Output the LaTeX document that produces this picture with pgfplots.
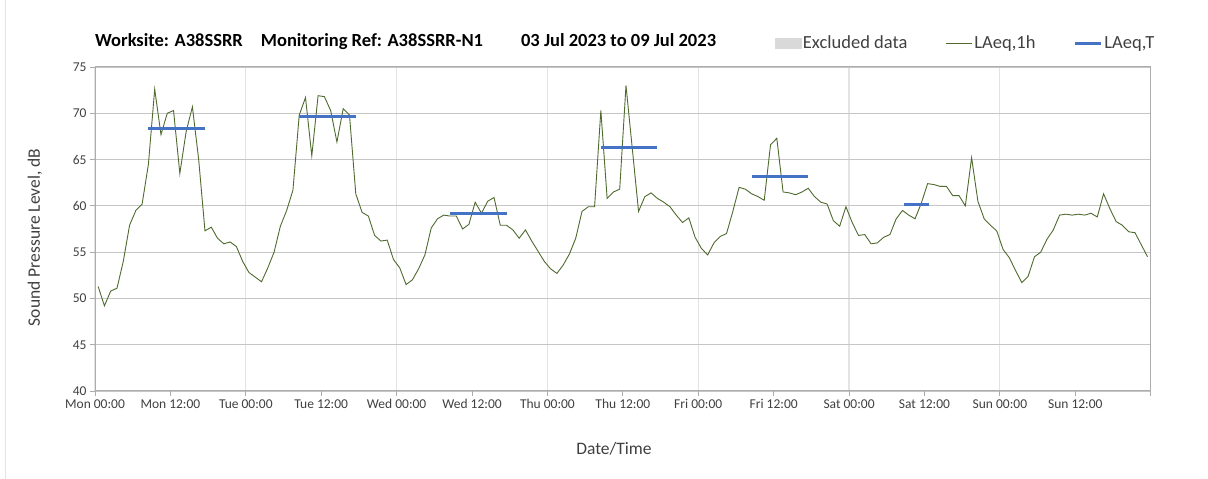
\documentclass[border=0pt]{standalone}
\usepackage{pgfplots}
\pgfplotsset{compat=1.18}
\usepackage{pgfplotstable}
\usepackage{fontspec}
\setmainfont{Carlito}
\definecolor{laeqgreen}{RGB}{79,106,46}
\definecolor{laeqblue}{RGB}{68,114,196}
\definecolor{txtgray}{RGB}{64,64,64}
\definecolor{exclgray}{RGB}{217,217,217}

% hourly LAeq,1h, hour index from Mon 00:00
\pgfplotstableread{
h L
0 51.3
1 49.2
2 50.8
3 51.1
4 54.0
5 57.9
6 59.5
7 60.2
8 64.5
9 72.6
10 67.7
11 70.0
12 70.3
13 63.5
14 68.0
15 70.7
16 65.0
17 57.3
18 57.7
19 56.5
20 55.9
21 56.1
22 55.6
23 54.0
24 52.8
25 52.3
26 51.8
27 53.3
28 55.0
29 57.8
30 59.5
31 61.7
32 69.8
33 71.7
34 65.4
35 71.9
36 71.8
37 70.3
38 66.9
39 70.5
40 69.8
41 61.3
42 59.3
43 58.9
44 56.8
45 56.2
46 56.3
47 54.2
48 53.3
49 51.5
50 52.0
51 53.2
52 54.7
53 57.6
54 58.6
55 59.0
56 58.9
57 58.9
58 57.5
59 58.0
60 60.4
61 59.2
62 60.5
63 60.9
64 57.9
65 57.9
66 57.4
67 56.5
68 57.4
69 56.2
70 55.1
71 54.0
72 53.2
73 52.7
74 53.6
75 54.8
76 56.5
77 59.4
78 59.9
79 59.9
80 70.3
81 60.8
82 61.5
83 61.8
84 73.0
85 66.2
86 59.4
87 61.0
88 61.4
89 60.8
90 60.4
91 59.9
92 59.0
93 58.2
94 58.7
95 56.6
96 55.4
97 54.7
98 56.0
99 56.7
100 57.0
101 59.4
102 62.0
103 61.8
104 61.3
105 61.0
106 60.6
107 66.6
108 67.3
109 61.5
110 61.4
111 61.2
112 61.5
113 61.9
114 61.0
115 60.4
116 60.2
117 58.4
118 57.8
119 59.9
120 58.2
121 56.8
122 56.9
123 55.9
124 56.0
125 56.6
126 56.9
127 58.6
128 59.5
129 59.0
130 58.6
131 60.3
132 62.4
133 62.3
134 62.1
135 62.1
136 61.1
137 61.1
138 60.0
139 65.2
140 60.5
141 58.6
142 57.9
143 57.3
144 55.3
145 54.4
146 53.0
147 51.7
148 52.4
149 54.5
150 55.0
151 56.4
152 57.4
153 59.0
154 59.1
155 59.0
156 59.1
157 59.0
158 59.2
159 58.8
160 61.3
161 59.7
162 58.3
163 57.9
164 57.2
165 57.1
166 55.8
167 54.5
}\hourly

\begin{document}
\begin{tikzpicture}
\useasboundingbox (0pt,0pt) rectangle (1208pt,479pt);
\draw[gray!20] (5pt,0pt) -- (5pt,479pt);
\node[anchor=base west, inner sep=0pt, font=\fontsize{18.5}{21}\selectfont\bfseries]
  at (95pt,432pt) {Worksite: A38SSRR\hspace{18pt}Monitoring Ref: A38SSRR-N1\hspace{38pt}03 Jul 2023 to 09 Jul 2023};
\begin{axis}[
  at={(95pt,88pt)}, anchor=south west,
  scale only axis, width=1055.7pt, height=324pt,
  xmin=0, xmax=168, ymin=40, ymax=75,
  xtick={0,24,...,168},
  xticklabels={Mon 00:00,Tue 00:00,Wed 00:00,Thu 00:00,Fri 00:00,Sat 00:00,Sun 00:00,{}},
  extra x ticks={12,36,...,156},
  extra x tick labels={Mon 12:00,Tue 12:00,Wed 12:00,Thu 12:00,Fri 12:00,Sat 12:00,Sun 12:00},
  extra x tick style={grid=none},
  ytick={40,45,...,75},
  grid=major,
  x grid style={draw=gray!22, line width=1.2pt},
  y grid style={draw=gray!45, line width=0.9pt},
  axis line style={draw=gray!65, line width=1pt},
  tick style={draw=gray!65, line width=0.8pt},
  tick align=outside, major tick length=5pt,
  xtick pos=bottom, ytick pos=left,
  ticklabel style={font=\fontsize{13.5}{15}\selectfont, text=txtgray},
  /pgf/number format/assume math mode=true,
  xlabel={Date/Time}, ylabel={Sound Pressure Level, dB},
  label style={font=\fontsize{17.5}{19}\selectfont, text=txtgray},
  xlabel style={at={(axis description cs:0.4916,-0.179)}, anchor=center},
  ylabel style={at={(axis description cs:-0.0568,0.474)}, anchor=center},
  unbounded coords=jump,
  legend columns=3,
  legend style={at={(axis description cs:0.644,1.074)}, anchor=west,
    draw=none, fill=none, font=\fontsize{18.5}{20}\selectfont, text=txtgray,
    inner sep=0pt, nodes={inner sep=1.5pt},
    /tikz/every even column/.append style={column sep=37pt}},
]
\addlegendimage{legend image code/.code={\fill[exclgray] (0pt,-5pt) rectangle (26pt,5pt);}}
\addlegendentry{Excluded data}
\addplot[laeqgreen, line width=0.9pt, no marks,
  legend image code/.code={\draw[laeqgreen, line width=0.9pt] (0pt,0pt) -- (26pt,0pt);}]
  table[x expr=\thisrow{h}+0.5, y=L] {\hourly};
\addlegendentry{LAeq,1h}
\addplot[laeqblue, line width=3pt, no marks,
  legend image code/.code={\draw[laeqblue, line width=3pt] (0pt,0pt) -- (26pt,0pt);}]
  coordinates {
  (8.5,68.4) (17.5,68.4) (20,nan)
  (32.5,69.7) (41.5,69.7) (44,nan)
  (56.5,59.2) (65.5,59.2) (68,nan)
  (80.5,66.3) (89.5,66.3) (92,nan)
  (104.5,63.2) (113.5,63.2) (116,nan)
  (128.7,60.1) (132.7,60.1)
  };
\addlegendentry{LAeq,T}
\end{axis}
\end{tikzpicture}
\end{document}
